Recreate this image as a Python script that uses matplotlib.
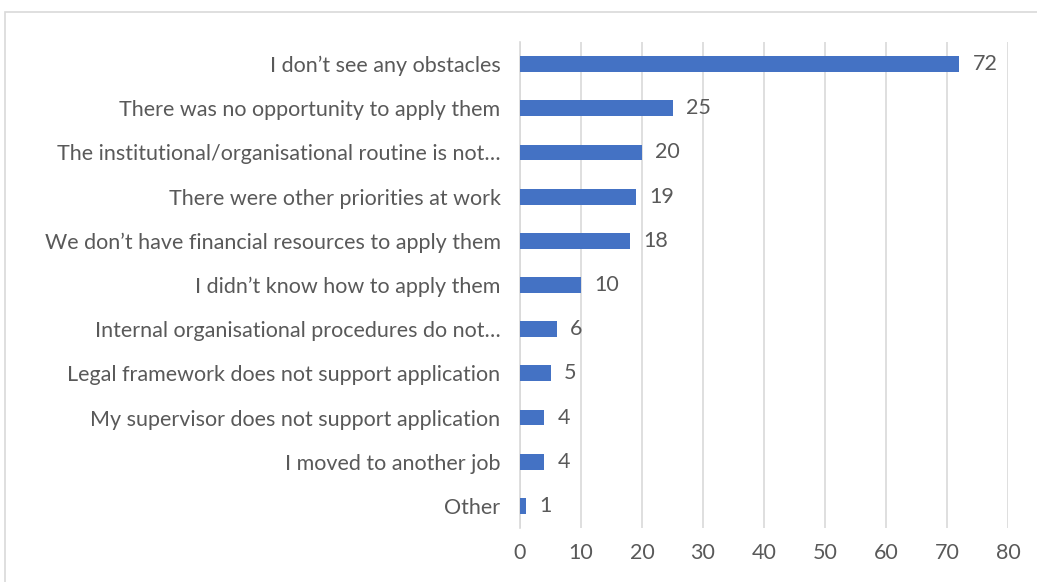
import matplotlib

matplotlib.use("Agg")
from matplotlib import pyplot as plt
from matplotlib.patches import Rectangle

categories = [
    "I don\u2019t see any obstacles",
    "There was no opportunity to apply them",
    "The institutional/organisational routine is not\u2026",
    "There were other priorities at work",
    "We don\u2019t have financial resources to apply them",
    "I didn\u2019t know how to apply them",
    "Internal organisational procedures do not\u2026",
    "Legal framework does not support application",
    "My supervisor does not support application",
    "I moved to another job",
    "Other",
]
values = [72, 25, 20, 19, 18, 10, 6, 5, 4, 4, 1]
x_ticks = [0, 10, 20, 30, 40, 50, 60, 70, 80]

text_color = "#595959"
bar_color = "#4472C4"
grid_color = "#D9D9D9"
plt.rcParams["font.family"] = ["Lato", "DejaVu Sans"]

fig = plt.figure(figsize=(10.37, 5.82), dpi=100)
fig.patches.append(Rectangle((5 / 1037, -0.01), 1.1, 1 - 12 / 582 + 0.01,
                             transform=fig.transFigure, fill=False,
                             edgecolor="#D9D9D9", linewidth=1.2))
ax = fig.add_axes([520 / 1037, 1 - 528 / 582, 488 / 1037, 486 / 582])

y = list(range(len(categories)))
ax.barh(y, values, height=0.36, color=bar_color, zorder=3)
for yi, v in zip(y, values):
    ax.text(v + 2.2, yi, str(v), va="center", ha="left", fontsize=15.5, color=text_color)

ax.set_yticks(y)
ax.set_yticklabels(categories, fontsize=15.5, color=text_color)
ax.set_ylim(len(categories) - 0.5, -0.5)
ax.set_xlim(0, 80)
ax.set_xticks(x_ticks)
ax.set_xticklabels([str(t) for t in x_ticks], fontsize=15.5, color=text_color)
ax.tick_params(axis="both", length=0)
ax.tick_params(axis="y", pad=14)
ax.tick_params(axis="x", pad=11)
ax.grid(axis="x", color=grid_color, linewidth=1.2, zorder=0)
for side in ["top", "right", "bottom"]:
    ax.spines[side].set_visible(False)
ax.spines["left"].set_color(grid_color)
ax.spines["left"].set_linewidth(1.2)

fig.savefig("out.png", dpi=100)
